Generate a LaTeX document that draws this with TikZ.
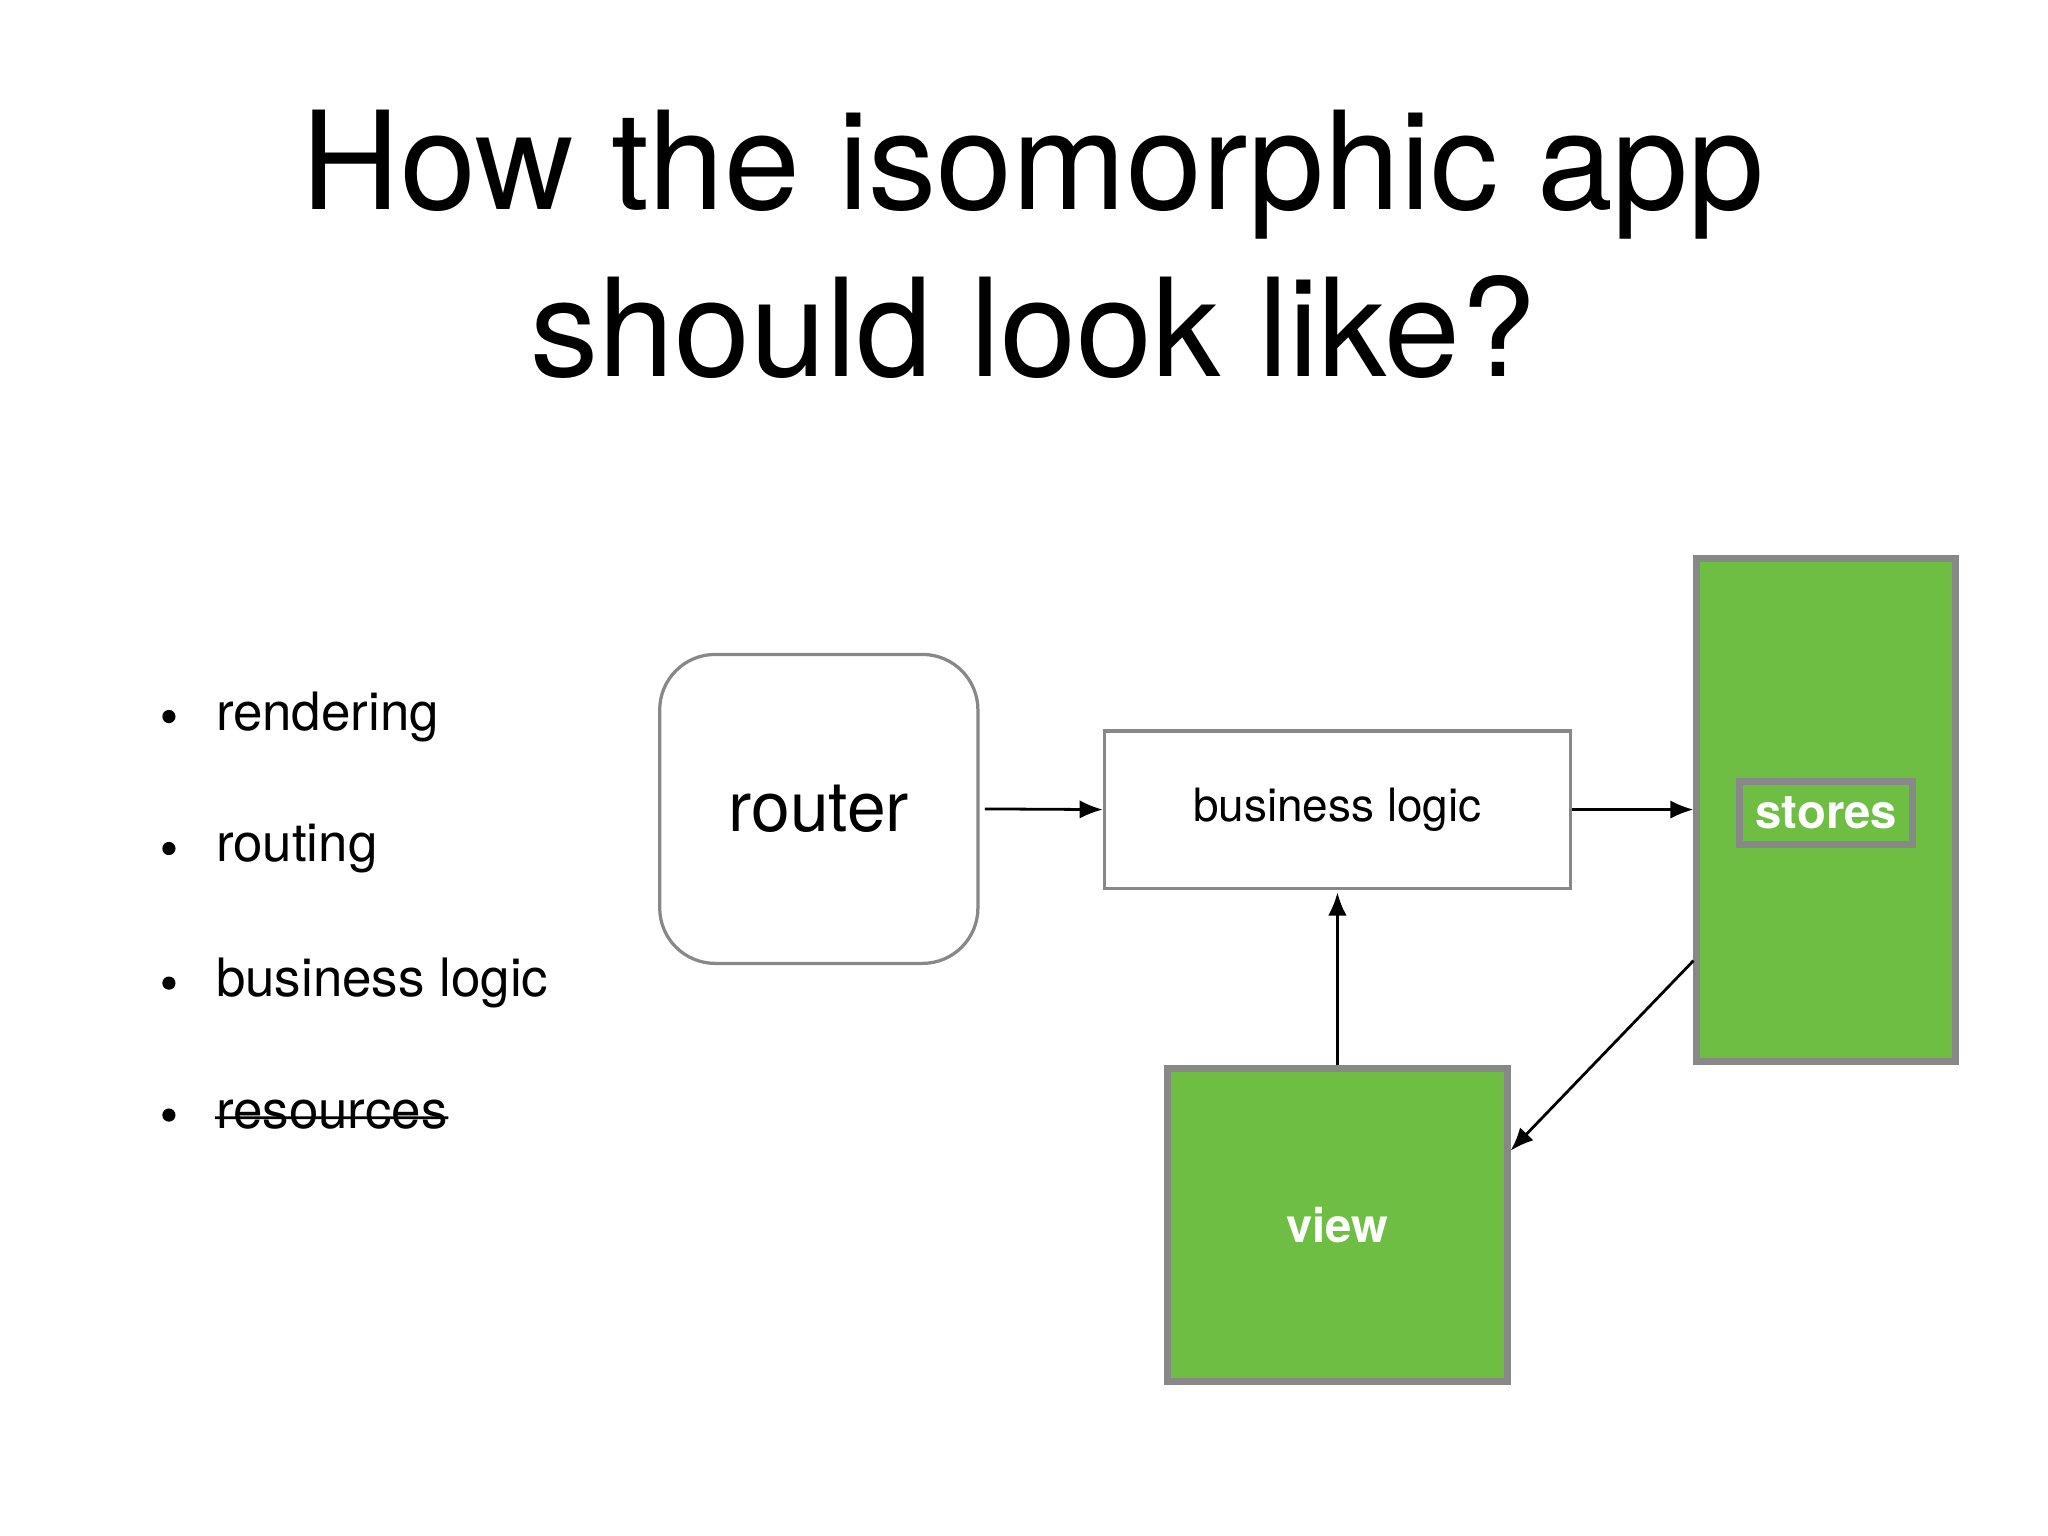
\documentclass[tikz,border=0pt]{standalone}
\usepackage{fontspec}
\setmainfont{TeX Gyre Heros}
\usetikzlibrary{arrows.meta}
\definecolor{grn}{HTML}{6EBE44}
\definecolor{brd}{HTML}{888888}
\begin{document}
\begin{tikzpicture}[x=0.01cm,y=-0.01cm,
  arr/.style={-{Latex[length=5pt,width=4pt]},line width=0.6pt},
  bul/.style={anchor=west,font=\fontsize{11.4}{13}\selectfont,inner sep=0pt},
  gbox/.style={draw=brd,line width=1.5pt,fill=grn,text=white,font=\fontsize{10.2}{12}\selectfont\bfseries}]
\useasboundingbox[fill=white] (0,0) rectangle (1552,1164);
\node[font=\fontsize{29.4}{36}\selectfont,align=center] (title) at (783,185) {How the isomorphic app\\should look like?};
\foreach \t/\y [count=\i] in {rendering/543,routing/643,business logic/745}
  \node[bul] (b\i) at (163,\y) {\t};
\node[bul] (b4) at (163,845) {resources};
\draw[line width=0.6pt] (b4.west) ++(0,2) -- ([yshift=-0.02cm]b4.east);
\foreach \y [count=\i] in {543,643,745,845}
  \fill (128,\y) circle (5);
\node[draw=brd,line width=0.7pt,rounded corners=0.42cm,minimum width=2.41cm,minimum height=2.34cm,font=\fontsize{15}{18}\selectfont] (router) at (620.5,613) {router};
\node[draw=brd,line width=0.7pt,minimum width=3.53cm,minimum height=1.19cm,font=\fontsize{9.9}{12}\selectfont] (bl) at (1013.5,613.5) {business logic};
\node[gbox,minimum width=1.96cm,minimum height=3.81cm] (stores) at (1384,613.5) {};
\node[gbox] at (1384,616) {stores};
\node[gbox,minimum width=2.57cm,minimum height=2.37cm] (view) at (1013.5,928.5) {view};
\draw[arr] ([xshift=0.04cm]router.east) -- (bl.west);
\draw[arr] (bl.east) -- (stores.west);
\draw[arr] (view.north) -- ([yshift=-0.02cm]bl.south);
\draw[arr] (stores.west |- 0,728) -- (view.east |- 0,872);
\end{tikzpicture}
\end{document}
